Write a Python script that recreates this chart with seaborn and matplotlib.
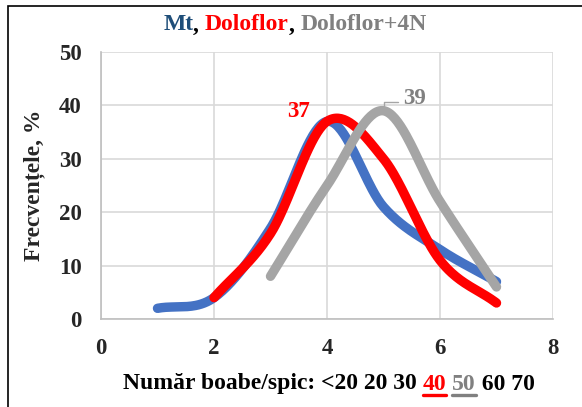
import numpy as np
import pandas as pd
import matplotlib
matplotlib.use("Agg")
import matplotlib.pyplot as plt
import seaborn as sns
from matplotlib.lines import Line2D
from matplotlib.patches import Rectangle

# ---- data ----
mt_x = [1, 2, 3, 4, 5, 6, 7]
mt_y = [2, 4, 17, 37, 21, 13, 7]
dolo_x = [2, 3, 4, 5, 6, 7]
dolo_y = [4, 16, 37, 30, 11, 3]
dolo4n_x = [3, 4, 5, 6, 7]
dolo4n_y = [8, 25, 39, 22, 6]
series_names = ["Mt", "Doloflor", "Doloflor+4N"]
line_colors = ["#4472C4", "#FF0000", "#A5A5A5"]
title_colors = ["#1F4E79", "#FF0000", "#808080"]
xlabel_parts = ["Număr boabe/spic: <20 20 30 ", "40", " ", "50", " 60 70"]
xlabel_colors = ["black", "#FF0000", "black", "#808080", "black"]
xlabel_underline = [False, True, False, True, False]


def catmull_rom(xs, ys, n=40):
    xs = np.asarray(xs, float)
    ys = np.asarray(ys, float)
    px = np.concatenate([[2 * xs[0] - xs[1]], xs, [2 * xs[-1] - xs[-2]]])
    py = np.concatenate([[2 * ys[0] - ys[1]], ys, [2 * ys[-1] - ys[-2]]])
    ox, oy = [], []
    for i in range(1, len(px) - 2):
        t = np.linspace(0, 1, n, endpoint=(i == len(px) - 3))
        p0, p1, p2, p3 = (np.array([px[j], py[j]]) for j in range(i - 1, i + 3))
        t2, t3 = t * t, t * t * t
        pts = 0.5 * ((2 * p1)[:, None] + (-p0 + p2)[:, None] * t
                     + (2 * p0 - 5 * p1 + 4 * p2 - p3)[:, None] * t2
                     + (-p0 + 3 * p1 - 3 * p2 + p3)[:, None] * t3)
        ox.extend(pts[0]); oy.extend(pts[1])
    return np.array(ox), np.array(oy)


sns.set_theme(style="white")
plt.rcParams['font.family'] = ['Liberation Serif', 'DejaVu Serif']
plt.rcParams['font.weight'] = 'bold'

fig = plt.figure(figsize=(5.82, 4.07), dpi=100)
W, H = 582, 407
ax = fig.add_axes([101 / W, 1 - 319 / H, (553 - 101) / W, (319 - 52) / H])

frames = []
for name, xs, ys in zip(series_names, [mt_x, dolo_x, dolo4n_x], [mt_y, dolo_y, dolo4n_y]):
    sx, sy = catmull_rom(xs, ys)
    frames.append(pd.DataFrame({"x": sx, "y": sy, "series": name, "order": np.arange(len(sx))}))
df = pd.concat(frames, ignore_index=True)

for name, col in zip(series_names, line_colors):
    sub = df[df.series == name]
    sns.lineplot(data=sub, x="x", y="y", sort=False, color=col, lw=6.8,
                 ax=ax, solid_capstyle="round", legend=False, estimator=None)

ax.set_xlim(0, 8)
ax.set_ylim(0, 50)
ax.set_xticks([0, 2, 4, 6, 8])
ax.set_yticks([0, 10, 20, 30, 40, 50])
ax.grid(True, color="#D9D9D9", lw=1.2)
ax.set_axisbelow(True)
for s in ["top", "right"]:
    ax.spines[s].set_visible(False)
for s in ["left", "bottom"]:
    ax.spines[s].set_color("#BFBFBF")
    ax.spines[s].set_linewidth(1.2)
ax.tick_params(axis="both", length=0, labelsize=16.5)
ax.tick_params(axis="y", pad=14)
ax.tick_params(axis="x", pad=14)
for lab in ax.get_xticklabels() + ax.get_yticklabels():
    lab.set_fontweight("bold")
ax.set_xlabel("")
ax.set_ylabel("Frecvențele, %", fontsize=17, fontweight="bold", labelpad=10)

# data labels
ax.text(3.49, 38.8, "37", color="#FF0000", fontsize=16.5, fontweight="bold", ha="center", va="center")
ax.text(5.55, 41.3, "39", color="#808080", fontsize=16.5, fontweight="bold", ha="center", va="center")
ax.plot([5.0, 5.0, 5.25], [39.4, 40.6, 40.6], color="#A5A5A5", lw=1)

fig.canvas.draw()
renderer = fig.canvas.get_renderer()


def multi_text(parts, colors, cx, cy, size, underline=None):
    texts = []
    for p, c in zip(parts, colors):
        t = fig.text(0, cy, p, color=c, fontsize=size, fontweight="bold", ha="left", va="center")
        texts.append(t)
    widths = [t.get_window_extent(renderer).width for t in texts]
    total = sum(widths)
    x = cx - total / 2
    for i, (t, w) in enumerate(zip(texts, widths)):
        t.set_x(x / W)
        if underline and underline[i]:
            yb = cy - 11 / H
            fig.add_artist(Line2D([x / W, (x + w) / W], [yb, yb], color=colors[i], lw=2.4,
                                  transform=fig.transFigure))
        x += w


multi_text(["Mt", ", ", "Doloflor", ", ", "Doloflor+4N"],
           [title_colors[0], "black", title_colors[1], "black", title_colors[2]],
           295, 1 - 25 / H, 17)
multi_text(xlabel_parts, xlabel_colors, 329, 1 - 384 / H, 17, xlabel_underline)

fig.add_artist(Rectangle((8 / W, -0.01), 1.2, 1 - 6 / H + 0.01, transform=fig.transFigure,
                         fill=False, edgecolor="black", lw=1.2))

fig.savefig("out.png", dpi=100)
